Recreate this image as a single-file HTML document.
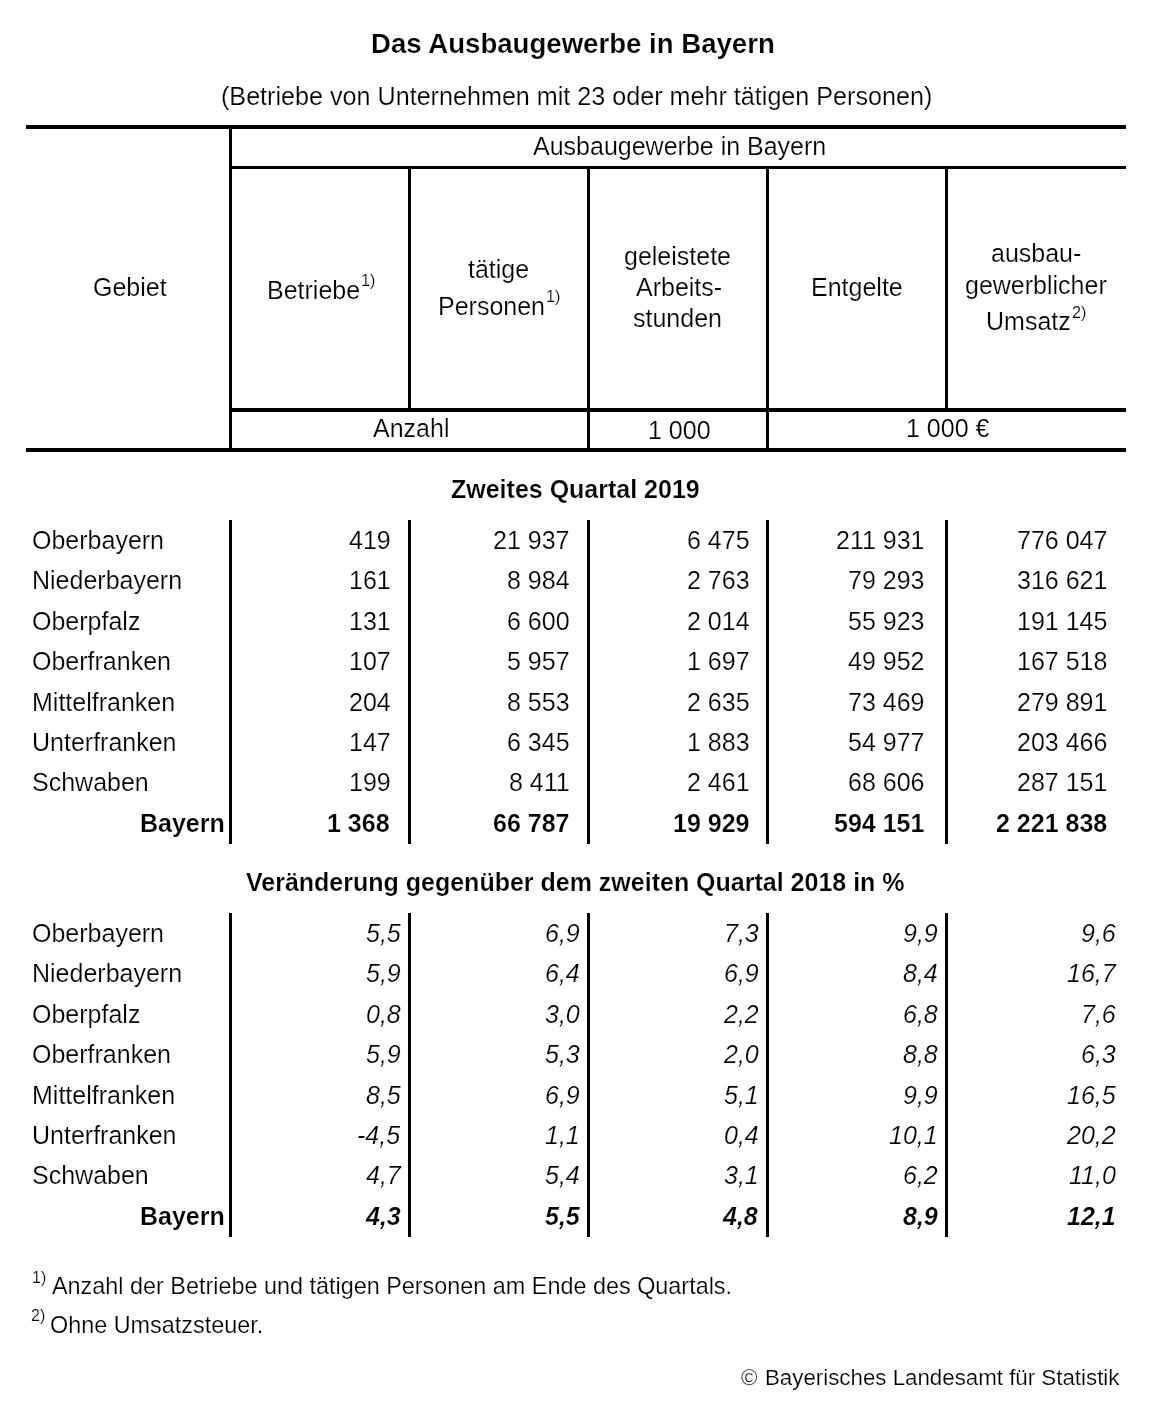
<!DOCTYPE html>
<html><head><meta charset="utf-8"><title>Das Ausbaugewerbe in Bayern</title>
<style>
html,body{margin:0;padding:0;background:#fff;}
body{width:1158px;height:1418px;position:relative;overflow:hidden;font-family:"Liberation Sans", sans-serif;color:#000;}
.k{position:absolute;background:#000;}
.t{position:absolute;white-space:pre;line-height:1;will-change:transform;-webkit-text-stroke:0.2px #fff;}
.m{display:inline-block;width:0;height:0;}
</style></head><body>
<div class="k" style="left:26px;top:125px;width:1100px;height:4px"></div>
<div class="k" style="left:229px;top:125px;width:3px;height:327px"></div>
<div class="k" style="left:229px;top:166px;width:897px;height:3px"></div>
<div class="k" style="left:408px;top:166px;width:3px;height:246px"></div>
<div class="k" style="left:945px;top:166px;width:3px;height:246px"></div>
<div class="k" style="left:587px;top:166px;width:3px;height:286px"></div>
<div class="k" style="left:766px;top:166px;width:3px;height:286px"></div>
<div class="k" style="left:229px;top:408px;width:897px;height:4px"></div>
<div class="k" style="left:26px;top:448px;width:1100px;height:4px"></div>
<div class="k" style="left:229px;top:520px;width:3px;height:324px"></div>
<div class="k" style="left:408px;top:520px;width:3px;height:324px"></div>
<div class="k" style="left:587px;top:520px;width:3px;height:324px"></div>
<div class="k" style="left:766px;top:520px;width:3px;height:324px"></div>
<div class="k" style="left:945px;top:520px;width:3px;height:324px"></div>
<div class="k" style="left:229px;top:913px;width:3px;height:324px"></div>
<div class="k" style="left:408px;top:913px;width:3px;height:324px"></div>
<div class="k" style="left:587px;top:913px;width:3px;height:324px"></div>
<div class="k" style="left:766px;top:913px;width:3px;height:324px"></div>
<div class="k" style="left:945px;top:913px;width:3px;height:324px"></div>
<div class="t" id="t0" style="left:371.00px;top:30.00px;font-size:27.6px;font-weight:bold;font-style:normal">Das Ausbaugewerbe in Bayern</div>
<div class="t" id="t1" style="left:221.00px;top:84.00px;font-size:25.15px;font-weight:normal;font-style:normal">(Betriebe von Unternehmen mit 23 oder mehr tätigen Personen)</div>
<div class="t" id="t2" style="left:533.00px;top:134.00px;font-size:25px;font-weight:normal;font-style:normal">Ausbaugewerbe in Bayern</div>
<div class="t" id="t3" style="left:93.00px;top:275.00px;font-size:25px;font-weight:normal;font-style:normal">Gebiet</div>
<div class="t" id="t4" style="left:267.00px;top:278.00px;font-size:25px;font-weight:normal;font-style:normal">Betriebe</div>
<div class="t" id="t5" style="left:361.00px;top:272.00px;font-size:16.3px;font-weight:normal;font-style:normal;transform:scaleY(1.03);transform-origin:0 14.00px">1)</div>
<div class="t" id="t6" style="left:468.00px;top:257.00px;font-size:25px;font-weight:normal;font-style:normal">tätige</div>
<div class="t" id="t7" style="left:438.00px;top:294.00px;font-size:25px;font-weight:normal;font-style:normal">Personen</div>
<div class="t" id="t8" style="left:546.00px;top:288.00px;font-size:16.3px;font-weight:normal;font-style:normal;transform:scaleY(1.03);transform-origin:0 14.00px">1)</div>
<div class="t" id="t9" style="left:624.00px;top:244.00px;font-size:25px;font-weight:normal;font-style:normal">geleistete</div>
<div class="t" id="t10" style="left:636.00px;top:275.00px;font-size:25px;font-weight:normal;font-style:normal">Arbeits-</div>
<div class="t" id="t11" style="left:633.00px;top:306.00px;font-size:25px;font-weight:normal;font-style:normal">stunden</div>
<div class="t" id="t12" style="left:811.00px;top:275.00px;font-size:25px;font-weight:normal;font-style:normal">Entgelte</div>
<div class="t" id="t13" style="left:991.00px;top:241.00px;font-size:25px;font-weight:normal;font-style:normal">ausbau-</div>
<div class="t" id="t14" style="left:965.00px;top:273.00px;font-size:25px;font-weight:normal;font-style:normal">gewerblicher</div>
<div class="t" id="t15" style="left:986.00px;top:309.00px;font-size:25px;font-weight:normal;font-style:normal">Umsatz</div>
<div class="t" id="t16" style="left:1072.00px;top:304.00px;font-size:16.3px;font-weight:normal;font-style:normal;transform:scaleY(1.03);transform-origin:0 14.00px">2)</div>
<div class="t" id="t17" style="left:373.00px;top:416.00px;font-size:25px;font-weight:normal;font-style:normal">Anzahl</div>
<div class="t" id="t18" style="left:648.00px;top:418.00px;font-size:25px;font-weight:normal;font-style:normal;transform:scaleY(1.03);transform-origin:0 21.00px">1 000</div>
<div class="t" id="t19" style="left:906.00px;top:416.00px;font-size:25px;font-weight:normal;font-style:normal;transform:scaleY(1.03);transform-origin:0 21.00px">1 000 €</div>
<div class="t" id="t20" style="left:451.00px;top:477.00px;font-size:25px;font-weight:bold;font-style:normal">Zweites Quartal 2019</div>
<div class="t" id="t21" style="left:246.00px;top:870.00px;font-size:25px;font-weight:bold;font-style:normal">Veränderung gegenüber dem zweiten Quartal 2018 in %</div>
<div class="t" id="t22" style="left:32.00px;top:528.00px;font-size:25px;font-weight:normal;font-style:normal">Oberbayern</div>
<div class="t" id="t23" style="left:349.00px;top:528.00px;font-size:25px;font-weight:normal;font-style:normal;transform:scaleY(1.03);transform-origin:0 21.00px">419</div>
<div class="t" id="t24" style="left:493.00px;top:528.00px;font-size:25px;font-weight:normal;font-style:normal;transform:scaleY(1.03);transform-origin:0 21.00px">21 937</div>
<div class="t" id="t25" style="left:687.00px;top:528.00px;font-size:25px;font-weight:normal;font-style:normal;transform:scaleY(1.03);transform-origin:0 21.00px">6 475</div>
<div class="t" id="t26" style="left:836.00px;top:528.00px;font-size:25px;font-weight:normal;font-style:normal;transform:scaleY(1.03);transform-origin:0 21.00px">211 931</div>
<div class="t" id="t27" style="left:1017.00px;top:528.00px;font-size:25px;font-weight:normal;font-style:normal;transform:scaleY(1.03);transform-origin:0 21.00px">776 047</div>
<div class="t" id="t28" style="left:32.00px;top:568.00px;font-size:25px;font-weight:normal;font-style:normal">Niederbayern</div>
<div class="t" id="t29" style="left:349.00px;top:568.00px;font-size:25px;font-weight:normal;font-style:normal;transform:scaleY(1.03);transform-origin:0 21.00px">161</div>
<div class="t" id="t30" style="left:507.00px;top:568.00px;font-size:25px;font-weight:normal;font-style:normal;transform:scaleY(1.03);transform-origin:0 21.00px">8 984</div>
<div class="t" id="t31" style="left:687.00px;top:568.00px;font-size:25px;font-weight:normal;font-style:normal;transform:scaleY(1.03);transform-origin:0 21.00px">2 763</div>
<div class="t" id="t32" style="left:848.00px;top:568.00px;font-size:25px;font-weight:normal;font-style:normal;transform:scaleY(1.03);transform-origin:0 21.00px">79 293</div>
<div class="t" id="t33" style="left:1017.00px;top:568.00px;font-size:25px;font-weight:normal;font-style:normal;transform:scaleY(1.03);transform-origin:0 21.00px">316 621</div>
<div class="t" id="t34" style="left:32.00px;top:609.00px;font-size:25px;font-weight:normal;font-style:normal">Oberpfalz</div>
<div class="t" id="t35" style="left:349.00px;top:609.00px;font-size:25px;font-weight:normal;font-style:normal;transform:scaleY(1.03);transform-origin:0 21.00px">131</div>
<div class="t" id="t36" style="left:507.00px;top:609.00px;font-size:25px;font-weight:normal;font-style:normal;transform:scaleY(1.03);transform-origin:0 21.00px">6 600</div>
<div class="t" id="t37" style="left:687.00px;top:609.00px;font-size:25px;font-weight:normal;font-style:normal;transform:scaleY(1.03);transform-origin:0 21.00px">2 014</div>
<div class="t" id="t38" style="left:848.00px;top:609.00px;font-size:25px;font-weight:normal;font-style:normal;transform:scaleY(1.03);transform-origin:0 21.00px">55 923</div>
<div class="t" id="t39" style="left:1017.00px;top:609.00px;font-size:25px;font-weight:normal;font-style:normal;transform:scaleY(1.03);transform-origin:0 21.00px">191 145</div>
<div class="t" id="t40" style="left:32.00px;top:649.00px;font-size:25px;font-weight:normal;font-style:normal">Oberfranken</div>
<div class="t" id="t41" style="left:349.00px;top:649.00px;font-size:25px;font-weight:normal;font-style:normal;transform:scaleY(1.03);transform-origin:0 21.00px">107</div>
<div class="t" id="t42" style="left:507.00px;top:649.00px;font-size:25px;font-weight:normal;font-style:normal;transform:scaleY(1.03);transform-origin:0 21.00px">5 957</div>
<div class="t" id="t43" style="left:687.00px;top:649.00px;font-size:25px;font-weight:normal;font-style:normal;transform:scaleY(1.03);transform-origin:0 21.00px">1 697</div>
<div class="t" id="t44" style="left:848.00px;top:649.00px;font-size:25px;font-weight:normal;font-style:normal;transform:scaleY(1.03);transform-origin:0 21.00px">49 952</div>
<div class="t" id="t45" style="left:1017.00px;top:649.00px;font-size:25px;font-weight:normal;font-style:normal;transform:scaleY(1.03);transform-origin:0 21.00px">167 518</div>
<div class="t" id="t46" style="left:32.00px;top:690.00px;font-size:25px;font-weight:normal;font-style:normal">Mittelfranken</div>
<div class="t" id="t47" style="left:349.00px;top:690.00px;font-size:25px;font-weight:normal;font-style:normal;transform:scaleY(1.03);transform-origin:0 21.00px">204</div>
<div class="t" id="t48" style="left:507.00px;top:690.00px;font-size:25px;font-weight:normal;font-style:normal;transform:scaleY(1.03);transform-origin:0 21.00px">8 553</div>
<div class="t" id="t49" style="left:687.00px;top:690.00px;font-size:25px;font-weight:normal;font-style:normal;transform:scaleY(1.03);transform-origin:0 21.00px">2 635</div>
<div class="t" id="t50" style="left:848.00px;top:690.00px;font-size:25px;font-weight:normal;font-style:normal;transform:scaleY(1.03);transform-origin:0 21.00px">73 469</div>
<div class="t" id="t51" style="left:1017.00px;top:690.00px;font-size:25px;font-weight:normal;font-style:normal;transform:scaleY(1.03);transform-origin:0 21.00px">279 891</div>
<div class="t" id="t52" style="left:32.00px;top:730.00px;font-size:25px;font-weight:normal;font-style:normal">Unterfranken</div>
<div class="t" id="t53" style="left:349.00px;top:730.00px;font-size:25px;font-weight:normal;font-style:normal;transform:scaleY(1.03);transform-origin:0 21.00px">147</div>
<div class="t" id="t54" style="left:507.00px;top:730.00px;font-size:25px;font-weight:normal;font-style:normal;transform:scaleY(1.03);transform-origin:0 21.00px">6 345</div>
<div class="t" id="t55" style="left:687.00px;top:730.00px;font-size:25px;font-weight:normal;font-style:normal;transform:scaleY(1.03);transform-origin:0 21.00px">1 883</div>
<div class="t" id="t56" style="left:848.00px;top:730.00px;font-size:25px;font-weight:normal;font-style:normal;transform:scaleY(1.03);transform-origin:0 21.00px">54 977</div>
<div class="t" id="t57" style="left:1017.00px;top:730.00px;font-size:25px;font-weight:normal;font-style:normal;transform:scaleY(1.03);transform-origin:0 21.00px">203 466</div>
<div class="t" id="t58" style="left:32.00px;top:770.00px;font-size:25px;font-weight:normal;font-style:normal">Schwaben</div>
<div class="t" id="t59" style="left:349.00px;top:770.00px;font-size:25px;font-weight:normal;font-style:normal;transform:scaleY(1.03);transform-origin:0 21.00px">199</div>
<div class="t" id="t60" style="left:509.00px;top:770.00px;font-size:25px;font-weight:normal;font-style:normal;transform:scaleY(1.03);transform-origin:0 21.00px">8 411</div>
<div class="t" id="t61" style="left:687.00px;top:770.00px;font-size:25px;font-weight:normal;font-style:normal;transform:scaleY(1.03);transform-origin:0 21.00px">2 461</div>
<div class="t" id="t62" style="left:848.00px;top:770.00px;font-size:25px;font-weight:normal;font-style:normal;transform:scaleY(1.03);transform-origin:0 21.00px">68 606</div>
<div class="t" id="t63" style="left:1017.00px;top:770.00px;font-size:25px;font-weight:normal;font-style:normal;transform:scaleY(1.03);transform-origin:0 21.00px">287 151</div>
<div class="t" id="t64" style="left:140.00px;top:811.00px;font-size:25px;font-weight:bold;font-style:normal">Bayern</div>
<div class="t" id="t65" style="left:327.00px;top:811.00px;font-size:25px;font-weight:bold;font-style:normal;transform:scaleY(1.03);transform-origin:0 21.00px">1 368</div>
<div class="t" id="t66" style="left:493.00px;top:811.00px;font-size:25px;font-weight:bold;font-style:normal;transform:scaleY(1.03);transform-origin:0 21.00px">66 787</div>
<div class="t" id="t67" style="left:673.00px;top:811.00px;font-size:25px;font-weight:bold;font-style:normal;transform:scaleY(1.03);transform-origin:0 21.00px">19 929</div>
<div class="t" id="t68" style="left:834.00px;top:811.00px;font-size:25px;font-weight:bold;font-style:normal;transform:scaleY(1.03);transform-origin:0 21.00px">594 151</div>
<div class="t" id="t69" style="left:996.00px;top:811.00px;font-size:25px;font-weight:bold;font-style:normal;transform:scaleY(1.03);transform-origin:0 21.00px">2 221 838</div>
<div class="t" id="t70" style="left:32.00px;top:921.00px;font-size:25px;font-weight:normal;font-style:normal">Oberbayern</div>
<div class="t" id="t71" style="left:366.00px;top:921.00px;font-size:25px;font-weight:normal;font-style:italic;transform:scaleY(1.03);transform-origin:0 21.00px">5,5</div>
<div class="t" id="t72" style="left:545.00px;top:921.00px;font-size:25px;font-weight:normal;font-style:italic;transform:scaleY(1.03);transform-origin:0 21.00px">6,9</div>
<div class="t" id="t73" style="left:724.00px;top:921.00px;font-size:25px;font-weight:normal;font-style:italic;transform:scaleY(1.03);transform-origin:0 21.00px">7,3</div>
<div class="t" id="t74" style="left:903.00px;top:921.00px;font-size:25px;font-weight:normal;font-style:italic;transform:scaleY(1.03);transform-origin:0 21.00px">9,9</div>
<div class="t" id="t75" style="left:1081.00px;top:921.00px;font-size:25px;font-weight:normal;font-style:italic;transform:scaleY(1.03);transform-origin:0 21.00px">9,6</div>
<div class="t" id="t76" style="left:32.00px;top:961.00px;font-size:25px;font-weight:normal;font-style:normal">Niederbayern</div>
<div class="t" id="t77" style="left:366.00px;top:961.00px;font-size:25px;font-weight:normal;font-style:italic;transform:scaleY(1.03);transform-origin:0 21.00px">5,9</div>
<div class="t" id="t78" style="left:545.00px;top:961.00px;font-size:25px;font-weight:normal;font-style:italic;transform:scaleY(1.03);transform-origin:0 21.00px">6,4</div>
<div class="t" id="t79" style="left:724.00px;top:961.00px;font-size:25px;font-weight:normal;font-style:italic;transform:scaleY(1.03);transform-origin:0 21.00px">6,9</div>
<div class="t" id="t80" style="left:903.00px;top:961.00px;font-size:25px;font-weight:normal;font-style:italic;transform:scaleY(1.03);transform-origin:0 21.00px">8,4</div>
<div class="t" id="t81" style="left:1067.00px;top:961.00px;font-size:25px;font-weight:normal;font-style:italic;transform:scaleY(1.03);transform-origin:0 21.00px">16,7</div>
<div class="t" id="t82" style="left:32.00px;top:1002.00px;font-size:25px;font-weight:normal;font-style:normal">Oberpfalz</div>
<div class="t" id="t83" style="left:366.00px;top:1002.00px;font-size:25px;font-weight:normal;font-style:italic;transform:scaleY(1.03);transform-origin:0 21.00px">0,8</div>
<div class="t" id="t84" style="left:545.00px;top:1002.00px;font-size:25px;font-weight:normal;font-style:italic;transform:scaleY(1.03);transform-origin:0 21.00px">3,0</div>
<div class="t" id="t85" style="left:724.00px;top:1002.00px;font-size:25px;font-weight:normal;font-style:italic;transform:scaleY(1.03);transform-origin:0 21.00px">2,2</div>
<div class="t" id="t86" style="left:903.00px;top:1002.00px;font-size:25px;font-weight:normal;font-style:italic;transform:scaleY(1.03);transform-origin:0 21.00px">6,8</div>
<div class="t" id="t87" style="left:1081.00px;top:1002.00px;font-size:25px;font-weight:normal;font-style:italic;transform:scaleY(1.03);transform-origin:0 21.00px">7,6</div>
<div class="t" id="t88" style="left:32.00px;top:1042.00px;font-size:25px;font-weight:normal;font-style:normal">Oberfranken</div>
<div class="t" id="t89" style="left:366.00px;top:1042.00px;font-size:25px;font-weight:normal;font-style:italic;transform:scaleY(1.03);transform-origin:0 21.00px">5,9</div>
<div class="t" id="t90" style="left:545.00px;top:1042.00px;font-size:25px;font-weight:normal;font-style:italic;transform:scaleY(1.03);transform-origin:0 21.00px">5,3</div>
<div class="t" id="t91" style="left:724.00px;top:1042.00px;font-size:25px;font-weight:normal;font-style:italic;transform:scaleY(1.03);transform-origin:0 21.00px">2,0</div>
<div class="t" id="t92" style="left:903.00px;top:1042.00px;font-size:25px;font-weight:normal;font-style:italic;transform:scaleY(1.03);transform-origin:0 21.00px">8,8</div>
<div class="t" id="t93" style="left:1081.00px;top:1042.00px;font-size:25px;font-weight:normal;font-style:italic;transform:scaleY(1.03);transform-origin:0 21.00px">6,3</div>
<div class="t" id="t94" style="left:32.00px;top:1083.00px;font-size:25px;font-weight:normal;font-style:normal">Mittelfranken</div>
<div class="t" id="t95" style="left:366.00px;top:1083.00px;font-size:25px;font-weight:normal;font-style:italic;transform:scaleY(1.03);transform-origin:0 21.00px">8,5</div>
<div class="t" id="t96" style="left:545.00px;top:1083.00px;font-size:25px;font-weight:normal;font-style:italic;transform:scaleY(1.03);transform-origin:0 21.00px">6,9</div>
<div class="t" id="t97" style="left:724.00px;top:1083.00px;font-size:25px;font-weight:normal;font-style:italic;transform:scaleY(1.03);transform-origin:0 21.00px">5,1</div>
<div class="t" id="t98" style="left:903.00px;top:1083.00px;font-size:25px;font-weight:normal;font-style:italic;transform:scaleY(1.03);transform-origin:0 21.00px">9,9</div>
<div class="t" id="t99" style="left:1067.00px;top:1083.00px;font-size:25px;font-weight:normal;font-style:italic;transform:scaleY(1.03);transform-origin:0 21.00px">16,5</div>
<div class="t" id="t100" style="left:32.00px;top:1123.00px;font-size:25px;font-weight:normal;font-style:normal">Unterfranken</div>
<div class="t" id="t101" style="left:357.00px;top:1123.00px;font-size:25px;font-weight:normal;font-style:italic;transform:scaleY(1.03);transform-origin:0 21.00px">-4,5</div>
<div class="t" id="t102" style="left:545.00px;top:1123.00px;font-size:25px;font-weight:normal;font-style:italic;transform:scaleY(1.03);transform-origin:0 21.00px">1,1</div>
<div class="t" id="t103" style="left:724.00px;top:1123.00px;font-size:25px;font-weight:normal;font-style:italic;transform:scaleY(1.03);transform-origin:0 21.00px">0,4</div>
<div class="t" id="t104" style="left:889.00px;top:1123.00px;font-size:25px;font-weight:normal;font-style:italic;transform:scaleY(1.03);transform-origin:0 21.00px">10,1</div>
<div class="t" id="t105" style="left:1067.00px;top:1123.00px;font-size:25px;font-weight:normal;font-style:italic;transform:scaleY(1.03);transform-origin:0 21.00px">20,2</div>
<div class="t" id="t106" style="left:32.00px;top:1163.00px;font-size:25px;font-weight:normal;font-style:normal">Schwaben</div>
<div class="t" id="t107" style="left:366.00px;top:1163.00px;font-size:25px;font-weight:normal;font-style:italic;transform:scaleY(1.03);transform-origin:0 21.00px">4,7</div>
<div class="t" id="t108" style="left:545.00px;top:1163.00px;font-size:25px;font-weight:normal;font-style:italic;transform:scaleY(1.03);transform-origin:0 21.00px">5,4</div>
<div class="t" id="t109" style="left:724.00px;top:1163.00px;font-size:25px;font-weight:normal;font-style:italic;transform:scaleY(1.03);transform-origin:0 21.00px">3,1</div>
<div class="t" id="t110" style="left:903.00px;top:1163.00px;font-size:25px;font-weight:normal;font-style:italic;transform:scaleY(1.03);transform-origin:0 21.00px">6,2</div>
<div class="t" id="t111" style="left:1069.00px;top:1163.00px;font-size:25px;font-weight:normal;font-style:italic;transform:scaleY(1.03);transform-origin:0 21.00px">11,0</div>
<div class="t" id="t112" style="left:140.00px;top:1204.00px;font-size:25px;font-weight:bold;font-style:normal">Bayern</div>
<div class="t" id="t113" style="left:366.00px;top:1204.00px;font-size:25px;font-weight:bold;font-style:italic;transform:scaleY(1.03);transform-origin:0 21.00px">4,3</div>
<div class="t" id="t114" style="left:545.00px;top:1204.00px;font-size:25px;font-weight:bold;font-style:italic;transform:scaleY(1.03);transform-origin:0 21.00px">5,5</div>
<div class="t" id="t115" style="left:723.00px;top:1204.00px;font-size:25px;font-weight:bold;font-style:italic;transform:scaleY(1.03);transform-origin:0 21.00px">4,8</div>
<div class="t" id="t116" style="left:903.00px;top:1204.00px;font-size:25px;font-weight:bold;font-style:italic;transform:scaleY(1.03);transform-origin:0 21.00px">8,9</div>
<div class="t" id="t117" style="left:1067.00px;top:1204.00px;font-size:25px;font-weight:bold;font-style:italic;transform:scaleY(1.03);transform-origin:0 21.00px">12,1</div>
<div class="t" id="t118" style="left:32.00px;top:1270.00px;font-size:16px;font-weight:normal;font-style:normal;transform:scaleY(1.03);transform-origin:0 13.00px">1)</div>
<div class="t" id="t119" style="left:52.00px;top:1275.00px;font-size:23.4px;font-weight:normal;font-style:normal">Anzahl der Betriebe und tätigen Personen am Ende des Quartals.</div>
<div class="t" id="t120" style="left:31.00px;top:1308.00px;font-size:16px;font-weight:normal;font-style:normal;transform:scaleY(1.03);transform-origin:0 13.00px">2)</div>
<div class="t" id="t121" style="left:50.00px;top:1314.00px;font-size:23.4px;font-weight:normal;font-style:normal">Ohne Umsatzsteuer.</div>
<div class="t" id="t122" style="left:741.00px;top:1367.00px;font-size:22.3px;font-weight:normal;font-style:normal">©</div>
<div class="t" id="t123" style="left:765.00px;top:1367.00px;font-size:22.3px;font-weight:normal;font-style:normal">Bayerisches Landesamt für Statistik</div>
</body></html>
